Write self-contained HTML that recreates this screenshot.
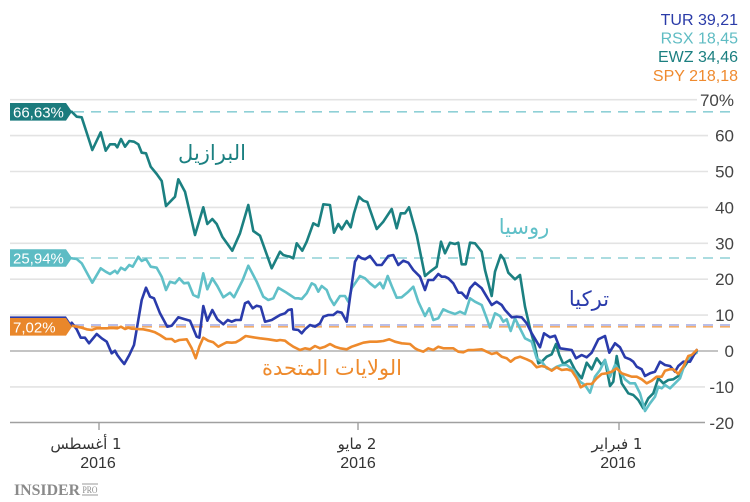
<!DOCTYPE html>
<html><head><meta charset="utf-8"><style>
html,body{margin:0;padding:0;background:#fff;}
svg{display:block;}
.ax{font-family:"Liberation Sans",sans-serif;font-size:17px;fill:#444;}
.lg{font-family:"Liberation Sans",sans-serif;font-size:16px;}
.ar{font-family:"DejaVu Sans","Liberation Sans",sans-serif;}
</style></head><body>
<svg width="750" height="502" viewBox="0 0 750 502" xmlns="http://www.w3.org/2000/svg">
<rect width="750" height="502" fill="#fff"/>
<g class="lg" text-anchor="end">
<text x="738" y="25" fill="#2a3ba8">TUR 39,21</text>
<text x="738" y="43.5" fill="#5fbcc3">RSX 18,45</text>
<text x="738" y="62" fill="#1b7f80">EWZ 34,46</text>
<text x="738" y="81" fill="#ef8a2e">SPY 218,18</text>
</g>
<g stroke="#e3e3e3" stroke-width="1.6">
<line x1="10" y1="99.7" x2="697" y2="99.7"/>
<line x1="10" y1="135.6" x2="708" y2="135.6"/>
<line x1="10" y1="171.5" x2="708" y2="171.5"/>
<line x1="10" y1="207.4" x2="708" y2="207.4"/>
<line x1="10" y1="243.3" x2="708" y2="243.3"/>
<line x1="10" y1="279.2" x2="708" y2="279.2"/>
<line x1="10" y1="315.1" x2="708" y2="315.1"/>
<line x1="10" y1="386.9" x2="705" y2="386.9"/>
</g>
<line x1="10" y1="351" x2="718" y2="351" stroke="#b0b0b0" stroke-width="1.6"/>
<line x1="10" y1="422.5" x2="705" y2="422.5" stroke="#a0a0a0" stroke-width="1.6"/>
<g stroke="#a0a0a0" stroke-width="1.4">
<line x1="99" y1="422" x2="99" y2="430"/>
<line x1="358" y1="422" x2="358" y2="430"/>
<line x1="619" y1="422" x2="619" y2="430"/>
</g>
<g class="ax" text-anchor="end">
<text x="734" y="106">70%</text>
<text x="734" y="141.6">60</text>
<text x="734" y="177.5">50</text>
<text x="734" y="213.4">40</text>
<text x="734" y="249.3">30</text>
<text x="734" y="285.2">20</text>
<text x="734" y="321.1">10</text>
<text x="734" y="357">0</text>
<text x="734" y="392.9">-10</text>
<text x="734" y="428.8">-20</text>
</g>
<g stroke-width="1.6" stroke-dasharray="10,7" fill="none">
<line x1="74" y1="111.8" x2="730" y2="111.8" stroke="#8fd0d6"/>
<line x1="74" y1="258" x2="730" y2="258" stroke="#8fd0d6"/>
<line x1="74" y1="325" x2="730" y2="325" stroke="#a3a8e0"/>
<line x1="74" y1="326.8" x2="730" y2="326.8" stroke="#f2ad6c"/>
</g>
<g fill="none" stroke-width="2.6" stroke-linejoin="round" stroke-linecap="round">
<polyline stroke="#1b8081" points="71.7,111.7 76.7,116.7 81.7,117.3 92.3,150 100.7,132.3 105.7,150.7 110,144.3 115,144.3 117.3,147.3 121,139 125,146.7 129.3,141 134,141.7 138.3,144.3 141.7,152.7 146,153.3 150.7,166.7 156.7,174 161.7,181 166,206 175,196.7 178.3,179.3 185,191.7 195,235 203.3,207.3 207.3,224 212.3,219 216.7,224 222.3,236.7 232.3,250.7 240,233.3 248.3,205 253.3,231 260,235.7 271.7,268.3 280,251.7 283.3,255 286.7,256 290,256.7 293.3,258.3 296.7,243.3 302.3,250.7 306.7,241.7 313.3,223.3 318.3,226 323.3,204.3 330,205 334,232.7 338.3,224 341.7,229.3 346.7,221 350.7,227.3 354,213.3 359,196.7 363.3,200.7 367.3,202 376.7,229 383.3,221.7 391.7,209 396.7,228.3 400.7,213.3 405,213.3 409,207.3 416.7,235 425,276 430,271.7 436.7,266.7 441,241.7 445,253.3 450,242.7 455,244 458.3,242.7 461.7,264.3 465.7,264.3 470,242.7 475,243.3 481.7,251.7 485,270 491.7,296 495,271.7 500.7,255 504,259.3 508.3,272.7 515,279.3 520,275 525,306.7 530,328.3 535,346.7 538.3,363.3 541.7,361.7 546.7,356.7 551.7,354.3 556,344 559.3,355 563.3,364 570,360 575,370 581.7,378.3 586.7,362.7 591.7,369.3 596.7,358.3 601.7,365 605,360 610,386 613.3,381.7 616.7,356 621.7,383.3 628.3,393.3 633.3,395 638.3,400 643.3,408.3 648.3,398.3 653.3,393.3 658.3,378.3 663.3,383.3 668.3,380 673.3,379.3 678.3,376 683.3,368.3 690,358.3 696.7,351"/>
<polyline stroke="#60c0c8" points="71.7,258.3 76.7,259 81.7,263.3 92.3,282.7 100.7,268.3 105.7,271.7 110,274 115,270.7 117.3,273.3 121,267.7 125,270 129.3,265 132.7,266.7 138.3,256.7 141.7,261 146,259 150.7,266.7 156.7,267.7 161.7,276.7 166,290 170,281.7 175,283.3 179.3,278.3 184,283.3 188.3,282.7 193.3,295 198.3,297.3 203.3,273.3 207.3,289.3 212.3,278.3 217.3,286 223.3,297.3 230,292.7 234,297.3 242.7,280 248.3,265.7 256.7,281.7 263.3,296.7 268.3,300 273.3,298.3 278.3,287.7 285,291.7 290,295 295,298.3 298.3,298.3 301.7,299 306.7,293.3 311.7,283.3 315,285 318.3,291.7 321.7,286 326.7,290 330,298.3 334,305 340,296 345,296 348.3,301.7 351.7,288.3 360,276 365,278.3 370,283.3 375,287.3 380,282.7 383.3,288.3 387.7,276 391.7,286 396.7,297.7 401.7,297.3 408.3,291.7 413.3,286.7 418.3,301.7 425,316 429.3,308.3 433.3,320 438.3,318.3 443.3,309.3 448.3,311.7 455,314 460,311.7 465,314 470,298.3 475,301.7 481.7,305 486.7,318.3 490,327.7 495,313.3 500,316 503.3,321.7 506.7,319.3 510.7,331 515,318.3 518.3,325 525,338.3 531.7,341.7 536.7,358.3 541.7,361.7 546.7,368.3 551.7,370 556.7,366.7 561.7,365 566.7,365 573.3,370 580,381.7 585,385 590,392.7 595,376.7 600,370 605,360 610,376.7 615,365 620,371.7 625,379.3 630,383.3 635,383.3 640,393.3 645,411 650,403.3 655,396.7 658.3,386.7 661.7,388.3 665,385 670,388.3 675,383.3 680,378.3 685,363.3 690,356.7 696.7,352.7"/>
<polyline stroke="#2a3bab" points="71.7,322.7 76.7,329.3 80.7,337.7 85,337.7 89,343.3 96.7,334 101.7,338.3 106.7,341.7 111.7,353.3 115,350.7 117.3,355 121,360 124.3,364 129.3,355 134,345 138.3,320 141.7,300 146,287.7 150,296.7 154,298.3 160,313.3 167.3,326.7 171.7,325.7 178.3,317.3 184,319 190,320.7 196.7,336.7 199.3,337.7 203.3,306 207.3,320.7 212.3,310 217.3,319.3 223.3,324.3 227.7,320 231.7,321.7 235.7,320 240.7,320 245,303.3 248.3,301.7 252.7,308.3 256.7,305.7 260.7,306.7 265,321.7 271.7,320 280,315 285,313.3 288.3,310 291.7,309.3 293.3,329.3 298.3,330 301.7,333.3 305,329.3 310,325 315,326.7 320,323.3 323.3,316.7 328.3,315 333.3,315 337.3,311.7 341.7,312.7 346.7,321.7 351.7,285 355,261.7 358.3,256 361.7,258.3 365,259.3 370,256 376.7,265 381.7,265 388.3,256 393.3,255 398.3,265 403.3,260.7 408.3,262.7 413.3,270 420,276.7 425,290 428.3,280 433.3,280 438.3,274 441.7,276.7 445,276.7 448.3,278.3 453.3,283.3 458.3,292.7 461.7,292.7 466.7,298.3 470,288.3 475,282.7 481.7,288.3 486.7,296.7 491.7,305 496.7,301.7 501.7,305 505,310 511.7,317.3 516.7,316.7 521.7,317.3 526.7,323.3 531.7,333.3 536.7,341.7 540,347.3 544,333.3 550,337.3 555,335.7 560,348.3 566.7,349.3 571.7,350 576,358.3 581.7,355 586.7,357.3 591.7,352.7 598.3,339.3 605,336 609.3,352.7 615,343.3 620,347.3 625,357.3 630,359.3 633.3,361.7 636.7,366.7 641.7,369.3 645,376 650,373.3 655,371.7 660,361.7 665,365 670,366 675,371.7 678.3,366 683.3,361.7 690,361.7 696.7,350"/>
<polyline stroke="#ee8a2c" points="71.7,325.7 76.7,326.7 81.7,327.7 86.7,329.3 91.7,330 96.7,328.3 101.7,328.3 106.7,328.3 111.7,328 117.3,328.3 121,326.7 125,329 128.3,327.7 131.7,328.7 136.7,329 143.3,329.3 150,330.7 155,332.3 160,335 166,339 171.7,339 175,341.7 179.3,340 186.7,339.3 191.7,348.3 195.7,358.3 199.3,346.7 203.3,337.7 208.3,340.7 213.3,342.3 218.3,346.7 223.3,344 226.7,342.3 231.7,342.7 235.7,342.3 240,340 245.7,336 253.3,337.3 260,338.3 268.3,339.3 276.7,340.7 280,340 285,340.7 288.3,343.3 293.3,346.7 300,350 305,348.3 310,349.3 315,346 320,348.3 325,346.7 330,344 335,346.7 340,348.3 346.7,349.3 351.7,346.7 356.7,345 363.3,342.7 370,341.7 376.7,341.7 383.3,341 389.3,339.3 395,341.7 401.7,343.3 410,344 415,348.3 418.3,350 423.3,351.7 428.3,348.3 433.3,350 438.3,346.7 443.3,348.3 448.3,348.3 453.3,348.3 458.3,351.7 463.3,352.3 468.3,350 473.3,350 481.7,349.3 486.7,351.7 491.7,354 496.7,352.7 501.7,356.7 506.7,358.3 510.7,361.7 515,358.3 520,356.7 526.7,359.3 531.7,361.7 536.7,367.3 541.7,366 546.7,367.3 551.7,370.7 556.7,367.3 561.7,370 566.7,369.3 571.7,370.7 576.7,378.3 580.7,387.3 586.7,384 591.7,384 596.7,378.3 601.7,374 606.7,373.3 611.7,371.7 616.7,368.3 621.7,373.3 626.7,375 631.7,376.7 636.7,376.7 641.7,379.3 646.7,383.3 651.7,380.7 656.7,376.7 661.7,376.7 665,370.7 670,369.3 673.3,369.3 678.3,374 683.3,366.7 688.3,356 691.7,355 696.7,350"/>
</g>
<polygon points="10,103 66,103 72,111.8 66,120.6 10,120.6" fill="#1b7b7d"/>
<text x="13" y="117.3" fill="#fff" font-family="Liberation Sans,sans-serif" font-size="15">66,63%</text>
<polygon points="10,249.2 66,249.2 72,258 66,266.8 10,266.8" fill="#5dbcc4"/>
<text x="13" y="263.5" fill="#fff" font-family="Liberation Sans,sans-serif" font-size="15">25,94%</text>
<polygon points="10,316.4 66,316.4 72,325.2 66,334 10,334" fill="#2a3bab"/>
<polygon points="10,318 66,318 72,326.8 66,335.6 10,335.6" fill="#e9872b"/>
<text x="13" y="332.3" fill="#fff" font-family="Liberation Sans,sans-serif" font-size="15">7,02%</text>
<text class="ar" x="212" y="160" font-size="21" fill="#1b8081" text-anchor="middle" direction="rtl">البرازيل</text>
<text class="ar" x="524" y="234" font-size="21" fill="#60c0c8" text-anchor="middle" direction="rtl">روسيا</text>
<text class="ar" x="589" y="306" font-size="21" fill="#2a3bab" text-anchor="middle" direction="rtl">تركيا</text>
<text class="ar" x="332" y="375" font-size="21" fill="#ee8a2c" text-anchor="middle" direction="rtl">الولايات المتحدة</text>
<g class="ar" font-size="15" fill="#333" text-anchor="middle">
<text x="86" y="449" direction="rtl">1 أغسطس</text>
<text x="357" y="449" direction="rtl">2 مايو</text>
<text x="617" y="449" direction="rtl">1 فبراير</text>
</g>
<g font-family="Liberation Sans,sans-serif" font-size="16" fill="#333" text-anchor="middle">
<text x="98" y="468">2016</text>
<text x="358" y="468">2016</text>
<text x="618" y="468">2016</text>
</g>
<text x="14" y="495" font-family="Liberation Serif,serif" font-weight="bold" font-size="16" fill="#8a8a8a" textLength="66" lengthAdjust="spacingAndGlyphs">INSIDER</text>
<line x1="82" y1="484" x2="98" y2="484" stroke="#9a9a9a" stroke-width="1"/>
<line x1="82" y1="495" x2="98" y2="495" stroke="#9a9a9a" stroke-width="1"/>
<text x="82.5" y="493" font-family="Liberation Serif,serif" font-size="9" fill="#8a8a8a" textLength="15" lengthAdjust="spacingAndGlyphs">PRO</text>
</svg>
</body></html>
